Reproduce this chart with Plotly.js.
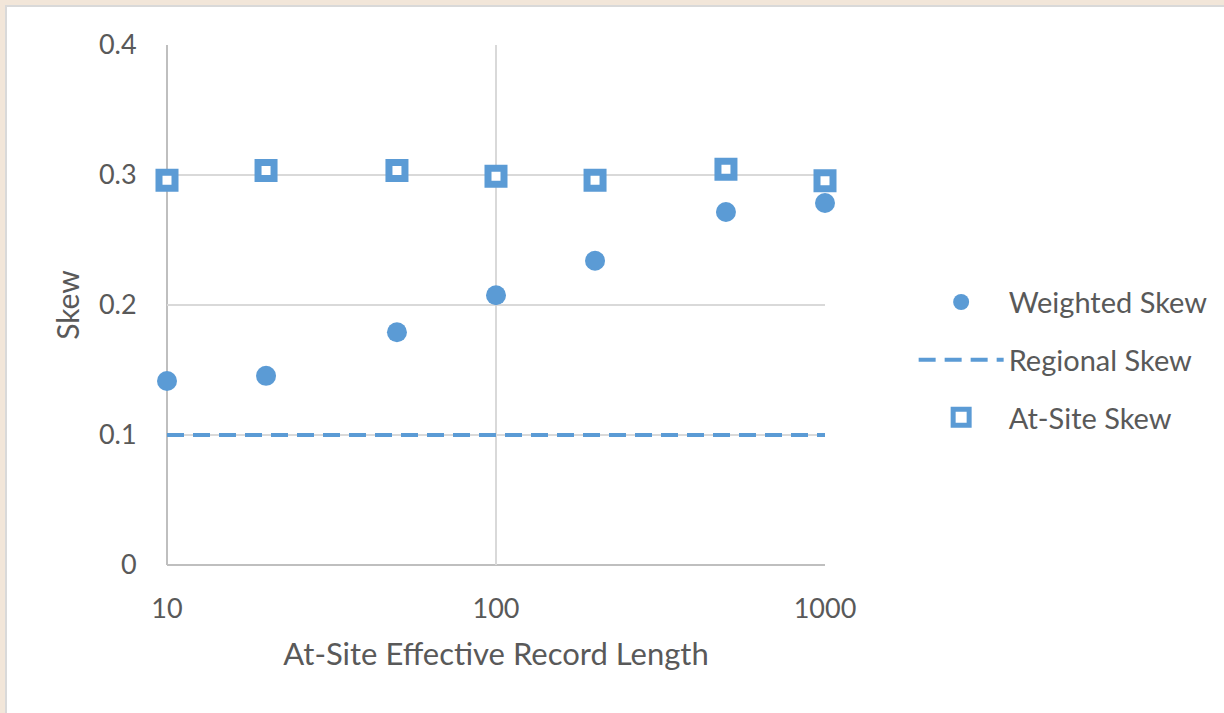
<!DOCTYPE html>
<html>
<head>
<meta charset="utf-8">
<script src="https://cdn.plot.ly/plotly-3.0.1.min.js"></script>
<style>
  html, body { margin: 0; padding: 0; width: 1224px; height: 713px; background: #f2e6d9; overflow: hidden; }
  #frame { position: absolute; left: 5px; top: 5px; width: 1219px; height: 708px; border-left: 2px solid #d9d9d9; border-top: 2px solid #d9d9d9; background: #fff; }
  #chart { position: absolute; left: 0; top: 0; width: 1217px; height: 706px; }
</style>
</head>
<body>
<div id="frame"><div id="chart"></div></div>
<script>
const recordLength = [10, 20, 50, 100, 200, 500, 1000];
const weightedSkew = [0.1415, 0.1455, 0.179, 0.2075, 0.234, 0.2715, 0.2785];
const atSiteSkew   = [0.296, 0.3035, 0.3035, 0.299, 0.296, 0.3045, 0.2955];
const regionalX    = [10, 1000];
const regionalSkew = [0.1, 0.1];
const yTicks = [0, 0.1, 0.2, 0.3, 0.4];
const yTickText = ['0', '0.1', '0.2', '0.3', '0.4'];
const xTicks = [10, 100, 1000];
const xTickText = ['10', '100', '1000'];

const blue = '#5b9bd5';
const font = 'Lato, "Open Sans", sans-serif';
const txt = '#595959';

const traces = [
  {
    x: regionalX, y: regionalSkew, name: 'Regional Skew', type: 'scatter', mode: 'lines',
    line: {color: blue, width: 4, dash: '17px,9px'}, legendrank: 2, legendgroup: 'b',
    hoverinfo: 'skip', cliponaxis: false
  },
  {
    x: recordLength, y: atSiteSkew, name: 'At-Site Skew', type: 'scatter', mode: 'markers',
    marker: {symbol: 'square', size: 16, color: '#ffffff', line: {color: blue, width: 7}},
    legendrank: 3, legendgroup: 'c', cliponaxis: false
  },
  {
    x: recordLength, y: weightedSkew, name: 'Weighted Skew', type: 'scatter', mode: 'markers',
    marker: {symbol: 'circle', size: 20, color: blue},
    legendrank: 1, legendgroup: 'a', cliponaxis: false
  }
];

const layout = {
  width: 1217, height: 706,
  margin: {l: 160, r: 398, t: 38, b: 148},
  paper_bgcolor: '#ffffff', plot_bgcolor: '#ffffff',
  font: {family: font, size: 28, color: txt},
  showlegend: true,
  legend: {
    x: 1.133, xanchor: 'left', y: 0.394, yanchor: 'middle',
    font: {family: font, size: 29, color: txt},
    tracegroupgap: 17, itemwidth: 85, bgcolor: 'rgba(0,0,0,0)'
  },
  xaxis: {
    type: 'log', range: [1, 3],
    tickvals: xTicks, ticktext: xTickText,
    showgrid: true, gridcolor: '#d9d9d9', gridwidth: 2,
    showline: false, zeroline: false,
    ticks: 'outside', ticklen: 0, ticklabelstandoff: 20,
    tickfont: {family: font, size: 27, color: txt},
    title: {text: 'At-Site Effective Record Length', font: {family: font, size: 31, color: txt}, standoff: 19}
  },
  yaxis: {
    range: [0, 0.4],
    tickvals: yTicks, ticktext: yTickText,
    showgrid: true, gridcolor: '#d9d9d9', gridwidth: 2,
    showline: false, zeroline: false,
    ticks: 'outside', ticklen: 0, ticklabelstandoff: 24,
    tickfont: {family: font, size: 27, color: txt},
    title: {text: 'Skew', font: {family: font, size: 30, color: txt}, standoff: 10}
  },
  shapes: [
    {type: 'line', xref: 'paper', yref: 'paper', x0: 0, x1: 0, y0: 0, y1: 1, line: {color: '#bfbfbf', width: 2}, layer: 'below'},
    {type: 'line', xref: 'paper', yref: 'paper', x0: 0, x1: 1, y0: 0, y1: 0, line: {color: '#bfbfbf', width: 2}, layer: 'below'}
  ]
};

Plotly.newPlot('chart', traces, layout, {displayModeBar: false, staticPlot: true});
</script>
</body>
</html>
